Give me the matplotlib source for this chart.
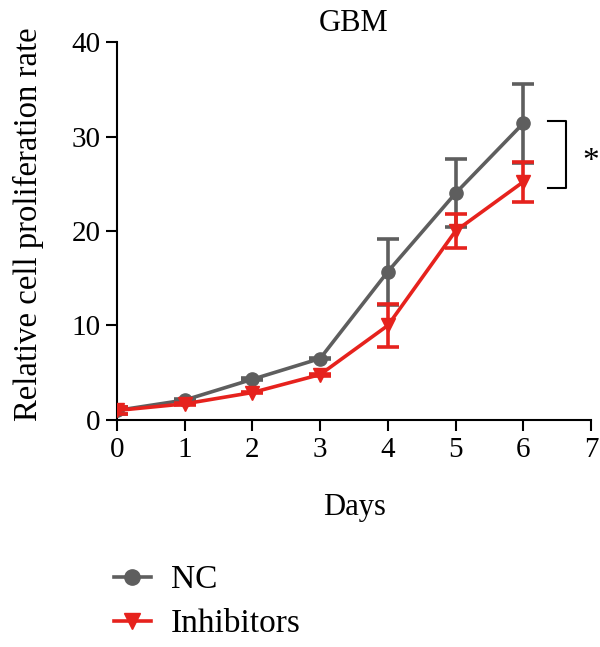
import matplotlib
matplotlib.use("Agg")
import matplotlib.pyplot as plt
from matplotlib.lines import Line2D

plt.rcParams['font.family'] = ['Liberation Serif', 'DejaVu Serif']

# values
days = [0, 1, 2, 3, 4, 5, 6]
nc_mean = [1.0, 2.1, 4.3, 6.5, 15.7, 24.0, 31.4]
nc_err = [0.4, 0.1, 0.1, 0.1, 3.5, 3.6, 4.2]
inh_mean = [1.0, 1.7, 2.9, 4.8, 10.0, 20.0, 25.2]
inh_err = [0.4, 0.1, 0.1, 0.1, 2.3, 1.8, 2.1]
labels = ['NC', 'Inhibitors']

gray = '#5e5e5e'
red = '#e6221d'

fig = plt.figure(figsize=(6.0, 6.47), dpi=100)
ax = fig.add_axes([0.195, 0.351, 0.79, 0.584])

ax.errorbar(days, nc_mean, yerr=nc_err, color=gray, marker='o', markersize=9.5,
            linewidth=2.6, elinewidth=2.6, capsize=8, capthick=2.6, zorder=2)
ax.errorbar(days, inh_mean, yerr=inh_err, color=red, marker='v', markersize=10,
            linewidth=2.6, elinewidth=2.6, capsize=8, capthick=2.6, zorder=3)

ax.set_xlim(0, 7)
ax.set_ylim(0, 40)
ax.set_xticks(range(0, 8))
ax.set_yticks([0, 10, 20, 30, 40])
for s in ['top', 'right']:
    ax.spines[s].set_visible(False)
for s in ['left', 'bottom']:
    ax.spines[s].set_linewidth(1.5)
ax.tick_params(width=1.5, length=8, labelsize=21, pad=4)

ax.set_title('GBM', fontsize=22, pad=8)
ax.set_xlabel('Days', fontsize=22, labelpad=22)
ax.set_ylabel('Relative cell proliferation rate', fontsize=23.6)
ax.yaxis.set_label_coords(-0.195 + 19 / 474, (420 - 224) / 378)

# significance bracket
ax.plot([6.37, 6.63, 6.63, 6.37], [31.6, 31.6, 24.6, 24.6], color='black',
        linewidth=1.5, clip_on=False)
ax.text(7.0, 27.3, '*', fontsize=24, ha='center', va='center', clip_on=False)

handles = [Line2D([], [], color=gray, marker='o', markersize=11, linewidth=2.6),
           Line2D([], [], color=red, marker='v', markersize=12, linewidth=2.6)]
fig.legend(handles, labels, loc='upper left', bbox_to_anchor=(0.19, 1 - 565 / 647),
           frameon=False, fontsize=24, handlelength=1.1, handletextpad=0.6,
           labelspacing=0.4, borderpad=0, borderaxespad=0)

fig.savefig('out.png', dpi=100)
